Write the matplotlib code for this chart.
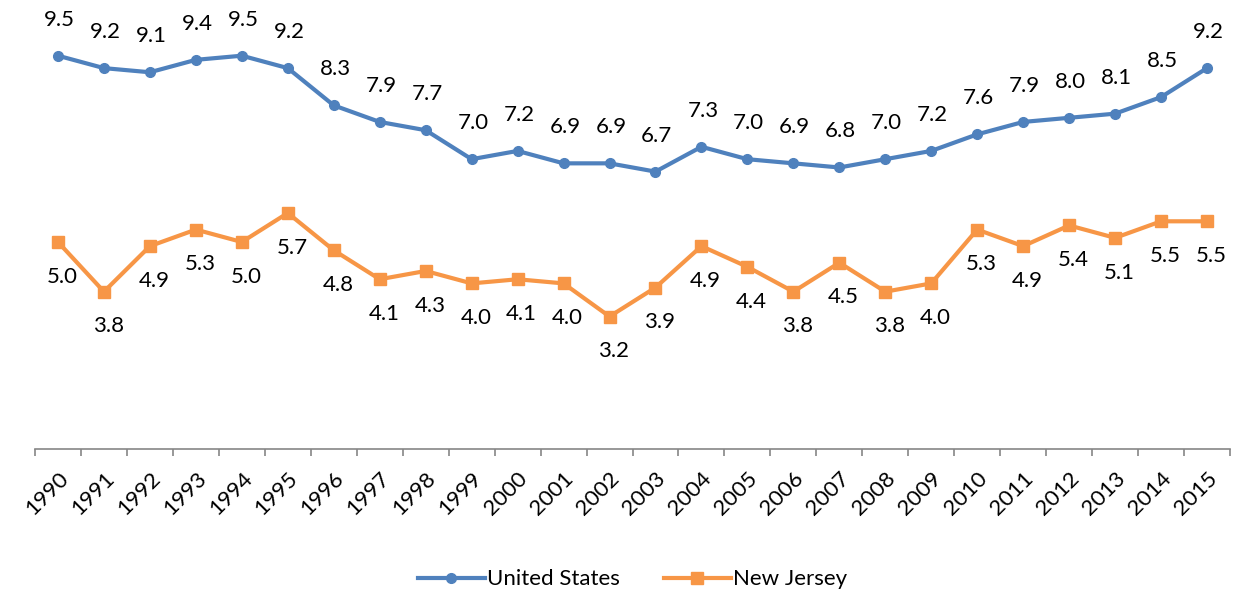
import numpy as np
import matplotlib.pyplot as plt

plt.rcParams['font.family'] = ['Lato', 'DejaVu Sans']

years = [str(y) for y in range(1990, 2016)]
us = [9.5, 9.2, 9.1, 9.4, 9.5, 9.2, 8.3, 7.9, 7.7, 7.0, 7.2, 6.9, 6.9, 6.7, 7.3,
      7.0, 6.9, 6.8, 7.0, 7.2, 7.6, 7.9, 8.0, 8.1, 8.5, 9.2]
nj = [5.0, 3.8, 4.9, 5.3, 5.0, 5.7, 4.8, 4.1, 4.3, 4.0, 4.1, 4.0, 3.2, 3.9, 4.9,
      4.4, 3.8, 4.5, 3.8, 4.0, 5.3, 4.9, 5.4, 5.1, 5.5, 5.5]

blue = '#4F81BD'
orange = '#F79646'

fig = plt.figure(figsize=(12.38, 5.94), dpi=100)
ax = fig.add_axes([35/1238, 1-449/594, 1195/1238, 414/594])
x = np.arange(len(years))

ax.plot(x, us, color=blue, lw=3, marker='o', ms=7, label='United States')
ax.plot(x, nj, color=orange, lw=3, marker='s', ms=8, label='New Jersey')

for i in range(len(x)):
    ax.annotate(f'{us[i]:.1f}', (x[i], us[i]), xytext=(1, 26), textcoords='offset points',
                ha='center', va='center', fontsize=16)
    ax.annotate(f'{nj[i]:.1f}', (x[i], nj[i]), xytext=(3, -25), textcoords='offset points',
                ha='center', va='center', fontsize=16)

ax.set_xlim(-0.5, len(x) - 0.5)
ax.set_ylim(0, 10)
ax.set_yticks([])
for s in ['top', 'right', 'left']:
    ax.spines[s].set_visible(False)
ax.spines['bottom'].set_color('#868686')
ax.spines['bottom'].set_linewidth(1.2)

ax.set_xticks(x)
ax.set_xticklabels(years, rotation=45, ha='right', rotation_mode='anchor', fontsize=16)
ax.tick_params(axis='x', which='major', length=0, pad=14)
ax.set_xticks(np.arange(-0.5, len(x)), minor=True)
ax.tick_params(axis='x', which='minor', length=5, color='#868686', width=1.2)

ax.legend(loc='center', bbox_to_anchor=(0.5, -0.315), ncol=2, frameon=False,
          fontsize=16, handlelength=3, columnspacing=2, handletextpad=0.1)

fig.savefig('out.png', dpi=100)
